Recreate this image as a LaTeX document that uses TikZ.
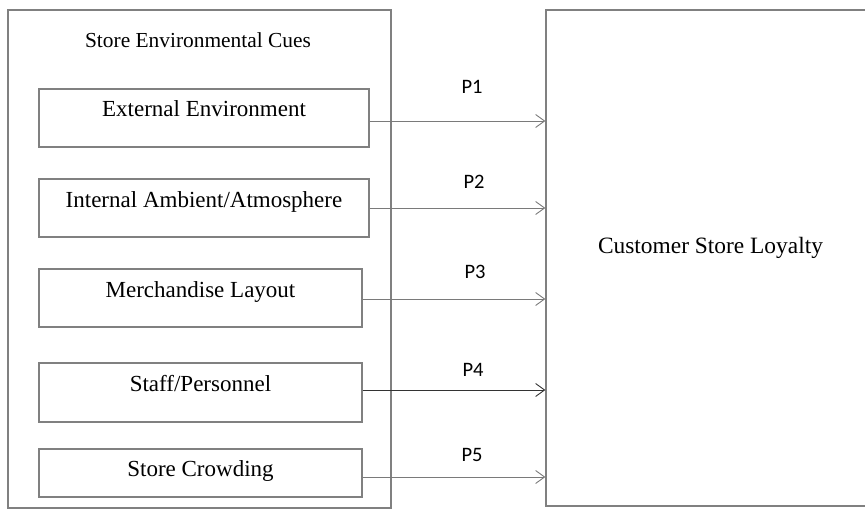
\documentclass[tikz,border=0pt]{standalone}
\usepackage{fontspec}
\setmainfont{Liberation Serif}
\newfontfamily\plabel{Carlito}
\usetikzlibrary{arrows.meta}
\definecolor{edge}{HTML}{808080}
\definecolor{link}{HTML}{7A7A7A}
\tikzset{
  frame/.style={draw=edge, line width=1.3pt, fill=none},
  cue/.style={draw=edge, line width=1.3pt, minimum height=58pt, inner sep=0pt},
  cuetext/.style={font=\fontsize{23}{26}\selectfont, anchor=base},
  arr/.style={draw=link, line width=1pt, -{Straight Barb[length=9pt,width=13pt,line width=0.9pt]}},
  pl/.style={font=\plabel\fontsize{20.5}{23}\selectfont, anchor=base, text=black}
}
\begin{document}
\begin{tikzpicture}[x=1pt,y=-1pt]
  \useasboundingbox (0,0) rectangle (865,511);
  % outer group of cues
  \node[frame, minimum width=383pt, minimum height=498pt, inner sep=0pt] (group) at (199.5,259) {};
  \node[font=\fontsize{21.4}{24}\selectfont, anchor=base] (title) at (198,48) {Store Environmental Cues};
  % the five cues
  \node[cue, minimum width=330pt] (b1) at (204,118) {};
  \node[cuetext] (t1) at (204,117) {External Environment};
  \node[cue, minimum width=330pt] (b2) at (204,208) {};
  \node[cuetext] (t2) at (204,207) {Internal Ambient/Atmosphere};
  \node[cue, minimum width=323pt] (b3) at (200.5,298) {};
  \node[cuetext] (t3) at (200.5,297) {Merchandise Layout};
  \node[cue, minimum width=323pt, minimum height=59pt] (b4) at (200.5,392.5) {};
  \node[cuetext] (t4) at (200.5,391) {Staff/Personnel};
  \node[cue, minimum width=323pt, minimum height=48pt] (b5) at (200.5,473) {};
  \node[cuetext] (t5) at (200.5,476) {Store Crowding};
  % outcome
  \node[frame, minimum width=324pt, minimum height=496pt, inner sep=0pt] (loyal) at (708,258) {};
  \node[font=\fontsize{23.4}{26}\selectfont, anchor=base] (lt) at (710.5,253) {Customer Store Loyalty};
  % propositions
  \draw[arr] ([yshift=-3pt]b1.east) -- ([yshift=-3pt]b1.east -| loyal.west);
  \draw[arr] (b2.east) -- (b2.east -| loyal.west);
  \draw[arr] ([yshift=-1pt]b3.east) -- ([yshift=-1pt]b3.east -| loyal.west);
  \draw[arr, draw=black!80] ([yshift=2.5pt]b4.east) -- ([yshift=2.5pt]b4.east -| loyal.west);
  \draw[arr] ([yshift=-4pt]b5.east) -- ([yshift=-4pt]b5.east -| loyal.west);
  \node[pl] (p1) at (472,93) {P1};
  \node[pl] (p2) at (474,188) {P2};
  \node[pl] (p3) at (475,278) {P3};
  \node[pl] (p4) at (473,376) {P4};
  \node[pl] (p5) at (472,461) {P5};
\end{tikzpicture}
\end{document}
